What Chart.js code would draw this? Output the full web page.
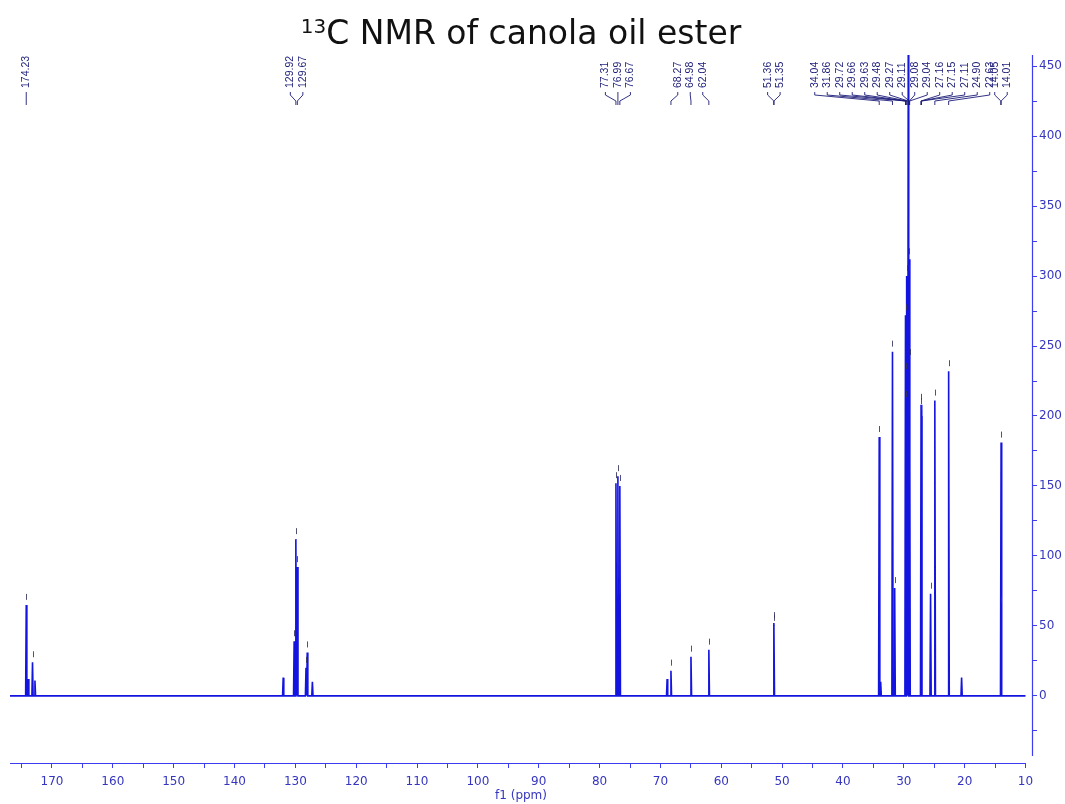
<!DOCTYPE html>
<html>
<head>
<meta charset="utf-8">
<script src="https://cdn.jsdelivr.net/npm/chart.js@4.4.1/dist/chart.umd.min.js"></script>
<style>
  html, body { margin: 0; padding: 0; background: #fff; }
  #wrap { width: 1065px; height: 804px; position: relative; }
</style>
</head>
<body>
<div id="wrap"><canvas id="nmr"></canvas></div>
<script>
// 13C spectrum: picked peaks (ppm) and their intensities
const peakShifts = [174.23, 173.9, 173.2, 172.8,
  132.0, 130.2, 129.92, 129.67, 128.25, 128.05, 127.2,
  77.31, 76.99, 76.67,
  68.9, 68.27, 64.98, 62.04,
  51.36, 51.35,
  34.04, 33.8, 31.86, 31.5,
  29.72, 29.66, 29.63, 29.48, 29.27, 29.11, 29.08, 29.04,
  27.16, 27.15, 27.11, 25.6, 24.90, 22.63, 20.5,
  14.05, 14.01];
const peakHeights = [65, 12, 24, 11,
  13, 39, 112, 92, 20, 31, 10,
  152, 157, 150,
  12, 18, 28, 33,
  52, 50,
  185, 10, 246, 77,
  272, 210, 230, 300, 458, 312, 300, 240,
  208, 205, 200, 73, 211, 232, 13,
  63, 181];

// annotated shifts, grouped the way the labels are stacked
const labelGroups = [
  [174.23],
  [129.92, 129.67],
  [77.31, 76.99, 76.67],
  [68.27, 64.98, 62.04],
  [51.36, 51.35],
  [34.04, 31.86, 29.72, 29.66, 29.63, 29.48, 29.27, 29.11, 29.08, 29.04, 27.16, 27.15, 27.11, 24.90, 22.63],
  [14.05, 14.01]
];

const spectrumRange = [176.9, 10];
const xTicks = [175, 170, 165, 160, 155, 150, 145, 140, 135, 130, 125, 120, 115, 110, 105, 100,
  95, 90, 85, 80, 75, 70, 65, 60, 55, 50, 45, 40, 35, 30, 25, 20, 15, 10];
const yTicks = [-25, 0, 25, 50, 75, 100, 125, 150, 175, 200, 225, 250, 275, 300, 325, 350, 375, 400, 425, 450];

const AXIS = '#3c3cf0';
const TICKTXT = '#3535c0';
const LINE = '#1414e0';

// spectrum trace: flat baseline with a narrow spike for each peak
const trace = [{ x: spectrumRange[0], y: 0 }];
peakShifts.forEach((p, i) => {
  trace.push({ x: p + 0.1, y: 0 }, { x: p, y: peakHeights[i] }, { x: p - 0.1, y: 0 });
});
trace.push({ x: spectrumRange[1], y: 0 });

const titlePlugin = {
  id: 'supTitle',
  afterDraw(chart) {
    const ctx = chart.ctx;
    const cx = (chart.chartArea.left + chart.chartArea.right) / 2;
    ctx.save();
    ctx.fillStyle = '#111';
    ctx.textBaseline = 'alphabetic';
    const supFont = '20px "DejaVu Sans"';
    const mainFont = '33px "DejaVu Sans"';
    ctx.font = supFont;
    const sup = '13';
    const wSup = ctx.measureText(sup).width;
    ctx.font = mainFont;
    const main = 'C NMR of canola oil ester';
    const wMain = ctx.measureText(main).width;
    const x0 = cx - (wSup + wMain) / 2;
    ctx.fillText(main, x0 + wSup, 44);
    ctx.font = supFont;
    ctx.fillText(sup, x0, 33);
    ctx.restore();
  }
};

// axis lines (the y axis stops short of the x axis)
const axisLines = {
  id: 'axisLines',
  afterDraw(chart) {
    const ctx = chart.ctx, xs = chart.scales.x, ys = chart.scales.y;
    const a = chart.chartArea;
    ctx.save();
    ctx.strokeStyle = AXIS;
    ctx.lineWidth = 1.2;
    ctx.beginPath();
    ctx.moveTo(a.left, a.bottom + 0.5);
    ctx.lineTo(xs.getPixelForValue(10), a.bottom + 0.5);
    ctx.moveTo(a.right + 0.5, a.top);
    ctx.lineTo(a.right + 0.5, ys.getPixelForValue(-43));
    ctx.stroke();
    ctx.restore();
  }
};

// small pick markers just above each peak top
const pickMarks = {
  id: 'pickMarks',
  afterDatasetsDraw(chart) {
    const ctx = chart.ctx, xs = chart.scales.x, ys = chart.scales.y;
    ctx.save();
    ctx.strokeStyle = 'rgba(50,50,90,0.85)';
    ctx.lineWidth = 1;
    peakShifts.forEach((p, i) => {
      if (peakHeights[i] < 15) return;
      const x = Math.round(xs.getPixelForValue(p)) + 0.5;
      const y = ys.getPixelForValue(peakHeights[i]);
      if (y < chart.chartArea.top + 8) return;
      ctx.beginPath();
      ctx.moveTo(x, y - 11);
      ctx.lineTo(x, y - 5);
      ctx.stroke();
    });
    ctx.restore();
  }
};

// rotated shift labels with their leader lines
const peakLabels = {
  id: 'peakLabels',
  afterDraw(chart) {
    const ctx = chart.ctx, xs = chart.scales.x;
    const gap = 12.5;
    const layout = labelGroups.map(g => {
      const px = g.map(v => xs.getPixelForValue(v));
      const mean = px.reduce((s, v) => s + v, 0) / px.length;
      const first = mean - (g.length - 1) * gap / 2;
      return { g, px, lx: g.map((_, i) => first + i * gap) };
    });
    // slide a group left when it runs into the next one
    for (let i = layout.length - 2; i >= 0; i--) {
      const a = layout[i], b = layout[i + 1];
      const over = a.lx[a.lx.length - 1] + 5 - b.lx[0];
      if (over > 0) a.lx = a.lx.map(v => v - over);
    }
    ctx.save();
    ctx.font = '10.5px "Liberation Sans"';
    ctx.fillStyle = '#1c1c78';
    ctx.strokeStyle = '#1c1c78';
    ctx.lineWidth = 0.9;
    ctx.textBaseline = 'middle';
    ctx.textAlign = 'left';
    layout.forEach(({ g, px, lx }) => {
      g.forEach((v, i) => {
        ctx.save();
        ctx.translate(lx[i], 88);
        ctx.rotate(-Math.PI / 2);
        ctx.fillText(v.toFixed(2), 0, 0);
        ctx.restore();
        ctx.beginPath();
        if (g.length === 1) {
          ctx.moveTo(lx[i], 92);
          ctx.lineTo(lx[i], 105);
        } else {
          ctx.moveTo(lx[i], 92);
          ctx.lineTo(lx[i], 95);
          ctx.lineTo(px[i], 101);
          ctx.lineTo(px[i], 105);
        }
        ctx.stroke();
      });
    });
    ctx.restore();
  }
};

new Chart(document.getElementById('nmr'), {
  type: 'line',
  data: {
    datasets: [{
      data: trace,
      borderColor: LINE,
      borderWidth: 1.6,
      pointRadius: 0,
      tension: 0,
      fill: false
    }]
  },
  options: {
    responsive: true,
    maintainAspectRatio: false,
    animation: false,
    layout: { padding: { top: 55, left: 10, right: 0, bottom: 0 } },
    plugins: { legend: { display: false }, tooltip: { enabled: false } },
    scales: {
      x: {
        type: 'linear',
        reverse: true,
        min: 8.93,
        max: 176.9,
        afterBuildTicks: s => { s.ticks = xTicks.map(v => ({ value: v })); },
        afterFit: s => { s.height = 41; },
        border: { display: false },
        grid: { drawOnChartArea: false, drawTicks: true, tickLength: 5, color: AXIS, tickColor: AXIS },
        ticks: {
          color: TICKTXT,
          padding: 7,
          maxRotation: 0,
          autoSkip: false,
          font: { family: '"DejaVu Sans"', size: 12 },
          callback: v => (v % 10 === 0 ? String(v) : '')
        },
        title: {
          display: true,
          text: 'f1 (ppm)',
          color: TICKTXT,
          padding: { top: 0, bottom: 1 },
          font: { family: '"DejaVu Sans"', size: 12 }
        }
      },
      y: {
        position: 'right',
        min: -48,
        max: 458,
        afterBuildTicks: s => { s.ticks = yTicks.map(v => ({ value: v })); },
        afterFit: s => { s.width = 33; },
        border: { display: false },
        grid: { drawOnChartArea: false, drawTicks: true, tickLength: 5, color: AXIS, tickColor: AXIS },
        ticks: {
          color: TICKTXT,
          padding: 2,
          autoSkip: false,
          font: { family: '"DejaVu Sans"', size: 12 },
          callback: v => (v % 50 === 0 ? String(v) : '')
        }
      }
    }
  },
  plugins: [titlePlugin, axisLines, pickMarks, peakLabels]
});
</script>
</body>
</html>
